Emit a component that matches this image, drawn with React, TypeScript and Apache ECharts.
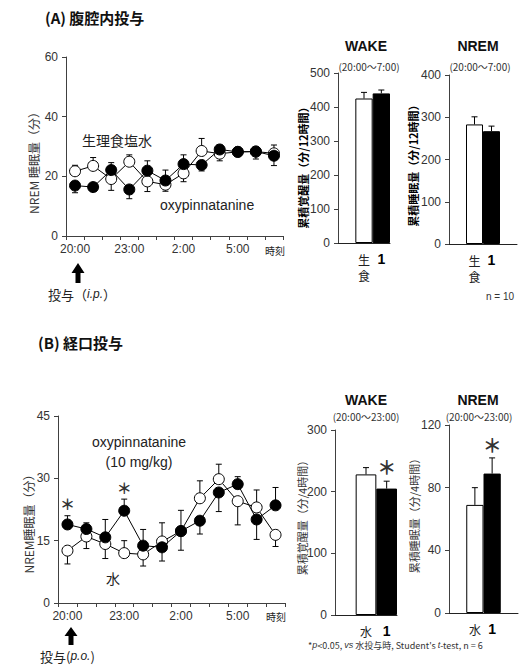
import React, { useEffect, useRef } from 'react';
import * as echarts from 'echarts';

const hours = ['20:00', '21:00', '22:00', '23:00', '0:00', '1:00', '2:00', '3:00', '4:00', '5:00', '6:00', '7:00'];

// Panel A (i.p.)
const salineA = [21.7, 23.5, 19.1, 24.9, 18.3, 17.2, 21.0, 28.5, 27.6, 28.2, 28.3, 27.7];
const salineErrA = [2.0, 2.8, -3.8, 2.3, -3.4, -2.2, -2.8, 4.2, -2.4, 1.2, 1.5, 2.8];
const oxyA = [16.9, 16.4, 22.1, 15.6, 21.9, 18.6, 24.1, 23.8, 29.0, 28.2, 28.3, 26.9];
const oxyErrA = [-2.4, -1.5, 2.5, -3.1, 3.3, 3.5, 3.1, -2.0, 1.5, -1.5, -2.5, -3.3];

// Panel B (p.o.)
const waterB = [12.6, 16.0, 14.2, 12.0, 11.7, 14.8, 17.3, 25.2, 29.8, 24.5, 23.0, 16.4];
const waterErrB = [-3.2, -2.9, -3.5, 3.0, -2.8, 4.5, -4.6, 4.2, 3.6, -5.7, 4.2, -2.8];
const oxyB = [18.9, 17.8, 15.8, 22.2, 13.8, 13.4, 17.3, 19.8, 26.6, 28.6, 20.1, 23.5];
const oxyErrB = [2.1, 1.5, 4.3, 2.8, 3.9, -3.3, 5.0, -3.2, -4.6, 1.8, -4.8, 4.3];
const oxySigB = [1, 0, 0, 1, 0, 0, 0, 0, 0, 0, 0, 0];

// Bar panels
const barCatsA = ['生食', '1'];
const wakeA = [425, 440];
const wakeErrA = [18, 10];
const nremA = [283, 267];
const nremErrA = [18, 12];

const barCatsB = ['水', '1'];
const wakeB = [228, 205];
const wakeErrB = [11, 12];
const wakeSigB = [0, 1];
const nremB = [69, 89];
const nremErrB = [11, 10];
const nremSigB = [0, 1];

const FONT = "'Liberation Sans', 'Noto Sans CJK JP', Arial, sans-serif";
const JFONT = "'Noto Sans CJK JP', 'Liberation Sans', sans-serif";
const AX = '#404040';
const TXT = '#333';

function errSeries(idx: number, values: number[], errs: number[], offset: number, sig: number[] | null, starSize: number, starGap: number, cap: number) {
  return {
    type: 'custom',
    xAxisIndex: idx,
    yAxisIndex: idx,
    z: 1,
    silent: true,
    data: values.map((v, i) => [i + offset, v, errs[i], sig ? sig[i] : 0]),
    renderItem: (params: any, api: any) => {
      const i = api.value(0);
      const v = api.value(1);
      const e = api.value(2);
      const p0 = api.coord([i, v]);
      const p1 = api.coord([i, v + e]);
      const children: any[] = [
        { type: 'line', shape: { x1: p0[0], y1: p0[1], x2: p0[0], y2: p1[1] }, style: { stroke: '#000', lineWidth: 1 } },
        { type: 'line', shape: { x1: p0[0] - cap, y1: p1[1], x2: p0[0] + cap, y2: p1[1] }, style: { stroke: '#000', lineWidth: 1 } },
      ];
      if (api.value(3)) {
        children.push({
          type: 'text',
          x: p0[0],
          y: Math.min(p0[1], p1[1]) - starGap,
          style: { text: '＊', fontSize: starSize, fontFamily: JFONT, fontWeight: 'bold', fill: '#333', align: 'center', verticalAlign: 'middle' },
        });
      }
      return { type: 'group', children };
    },
  };
}

function lineX(idx: number) {
  return {
    type: 'category',
    gridIndex: idx,
    data: hours,
    boundaryGap: true,
    axisLine: { lineStyle: { color: AX, width: 1 } },
    axisTick: { show: true, interval: 0, length: 4, lineStyle: { color: AX } },
    axisLabel: { interval: (i: number) => i % 3 === 0, color: TXT, fontSize: 12, fontFamily: FONT, margin: 7 },
  };
}

function valY(idx: number, max: number, interval: number) {
  return {
    type: 'value',
    gridIndex: idx,
    min: 0,
    max,
    interval,
    axisLine: { show: true, lineStyle: { color: AX, width: 1 } },
    axisTick: { show: true, length: 4, lineStyle: { color: AX } },
    axisLabel: { color: TXT, fontSize: 12, fontFamily: FONT, margin: 8 },
    splitLine: { show: false },
  };
}

function barX(idx: number, cats: string[], trailing: boolean) {
  const data = ['', ...cats];
  if (trailing) data.push(' ');
  return {
    type: 'category',
    gridIndex: idx,
    data,
    boundaryGap: true,
    axisLine: { lineStyle: { color: '#222', width: 1 } },
    axisTick: { show: false },
    axisLabel: {
      interval: 0,
      margin: 8,
      fontFamily: JFONT,
      fontSize: 12,
      color: '#222',
      lineHeight: 16,
      formatter: (v: string) => (v === '1' ? '{b|1}' : v.split('').join('\n')),
      rich: { b: { fontFamily: FONT, fontWeight: 'bold', fontSize: 14, color: '#000', lineHeight: 16 } },
    },
  };
}

function barSeries(idx: number, values: number[], trailing: boolean) {
  const data: any[] = ['-',
    { value: values[0], itemStyle: { color: '#fff', borderColor: '#000', borderWidth: 1 } },
    { value: values[1], itemStyle: { color: '#000', borderColor: '#000', borderWidth: 1 } },
  ];
  if (trailing) data.push('-');
  return { type: 'bar', xAxisIndex: idx, yAxisIndex: idx, barCategoryGap: '0%', z: 2, data };
}

function lineSeries(idx: number, values: number[], filled: boolean) {
  return {
    type: 'line',
    xAxisIndex: idx,
    yAxisIndex: idx,
    data: values,
    symbol: 'circle',
    symbolSize: 11,
    z: filled ? 4 : 3,
    lineStyle: { color: '#000', width: 1 },
    itemStyle: { color: filled ? '#000' : '#fff', borderColor: '#000', borderWidth: 1 },
  };
}

function txt(text: string, x: number, y: number, fontSize: number, opts: any = {}) {
  return {
    type: 'text',
    x,
    y,
    rotation: opts.rotation || 0,
    style: {
      text,
      fontSize,
      fontFamily: opts.fontFamily || FONT,
      fontWeight: opts.bold ? 'bold' : 'normal',
      fill: opts.fill || TXT,
      align: opts.align || 'left',
      verticalAlign: 'middle',
      rich: opts.rich,
    },
  };
}

function arrow(cx: number, top: number, headBottom: number, bottom: number) {
  return {
    type: 'polygon',
    shape: {
      points: [
        [cx, top], [cx + 6.5, headBottom], [cx + 2.5, headBottom], [cx + 2.5, bottom],
        [cx - 2.5, bottom], [cx - 2.5, headBottom], [cx - 6.5, headBottom],
      ],
    },
    style: { fill: '#000' },
  };
}

export default function App() {
  const ref = useRef<HTMLDivElement>(null);
  useEffect(() => {
    if (!ref.current) return;
    const chart = echarts.init(ref.current, null, { renderer: 'svg' });
    const V = Math.PI / 2;
    const italicRich = {
      n: { fontSize: 13, fontFamily: JFONT, fill: '#222' },
      i: { fontSize: 12, fontFamily: FONT, fontStyle: 'italic', fill: '#222' },
    };
    const footRich = {
      n: { fontSize: 9, fontFamily: JFONT, fill: '#333' },
      i: { fontSize: 9, fontFamily: FONT, fontStyle: 'italic', fill: '#333' },
    };
    chart.setOption({
      animation: false,
      backgroundColor: '#fff',
      grid: [
        { left: 66, top: 57, width: 217, height: 179 },
        { left: 338, top: 73, width: 52, height: 170 },
        { left: 449, top: 75, width: 68, height: 169 },
        { left: 58, top: 416, width: 227, height: 187 },
        { left: 335, top: 430, width: 62, height: 185 },
        { left: 449, top: 425, width: 69, height: 188 },
      ],
      xAxis: [
        lineX(0),
        barX(1, barCatsA, false),
        barX(2, barCatsA, true),
        lineX(3),
        barX(4, barCatsB, false),
        barX(5, barCatsB, true),
      ],
      yAxis: [
        valY(0, 60, 20),
        valY(1, 500, 100),
        valY(2, 400, 100),
        valY(3, 45, 15),
        valY(4, 300, 100),
        valY(5, 120, 40),
      ],
      series: [
        errSeries(0, salineA, salineErrA, 0, null, 14, 11, 3),
        errSeries(0, oxyA, oxyErrA, 0, null, 14, 11, 3),
        lineSeries(0, salineA, false),
        lineSeries(0, oxyA, true),
        barSeries(1, wakeA, false),
        errSeries(1, wakeA, wakeErrA, 1, null, 19, 14, 3),
        barSeries(2, nremA, true),
        errSeries(2, nremA, nremErrA, 1, null, 19, 14, 3),
        errSeries(3, waterB, waterErrB, 0, null, 14, 11, 3),
        errSeries(3, oxyB, oxyErrB, 0, oxySigB, 15, 12, 3),
        lineSeries(3, waterB, false),
        lineSeries(3, oxyB, true),
        barSeries(4, wakeB, false),
        errSeries(4, wakeB, wakeErrB, 1, wakeSigB, 19, 15, 3),
        barSeries(5, nremB, true),
        errSeries(5, nremB, nremErrB, 1, nremSigB, 19, 13, 3),
      ],
      graphic: [
        txt('(A) 腹腔内投与', 45, 17, 15, { bold: true, fill: '#111', fontFamily: JFONT }),
        txt('(B) 経口投与', 38, 342, 15, { bold: true, fill: '#111', fontFamily: JFONT }),
        txt('NREM 睡眠量（分）', 33, 160, 12, { rotation: V, align: 'center', fontFamily: JFONT }),
        txt('NREM睡眠量（分）', 28, 521, 12, { rotation: V, align: 'center', fontFamily: JFONT }),
        txt('生理食塩水', 82, 140, 14, { fontFamily: JFONT, fill: '#222' }),
        txt('oxypinnatanine', 160, 205, 14, { fill: '#222' }),
        txt('oxypinnatanine', 139, 442, 14, { fill: '#222', align: 'center' }),
        txt('(10 mg/kg)', 139, 462, 14, { fill: '#222', align: 'center' }),
        txt('水', 113, 578, 14, { fontFamily: JFONT, fill: '#222', align: 'center' }),
        txt('時刻', 265, 250, 10, { fontFamily: JFONT, fill: '#222' }),
        txt('時刻', 266, 616, 10, { fontFamily: JFONT, fill: '#222' }),
        arrow(78, 263, 273, 283),
        arrow(71, 627, 636, 645),
        txt('{n|投与（}{i|i.p.}{n|）}', 48, 294, 13, { rich: italicRich }),
        txt('{n|投与(}{i|p.o.}{n|)}', 40, 656, 13, { rich: italicRich }),
        txt('WAKE', 366, 46, 14, { bold: true, align: 'center', fill: '#111' }),
        txt('NREM', 478, 46, 14, { bold: true, align: 'center', fill: '#111' }),
        txt('(20:00～7:00)', 369, 66, 10, { align: 'center', fontFamily: JFONT }),
        txt('(20:00～7:00)', 480, 66, 10, { align: 'center', fontFamily: JFONT }),
        txt('WAKE', 366, 400, 14, { bold: true, align: 'center', fill: '#111' }),
        txt('NREM', 478, 400, 14, { bold: true, align: 'center', fill: '#111' }),
        txt('(20:00～23:00)', 366, 416, 10, { align: 'center', fontFamily: JFONT }),
        txt('(20:00～23:00)', 479, 416, 10, { align: 'center', fontFamily: JFONT }),
        txt('累積覚醒量（分/12時間）', 303, 165, 11, { rotation: V, align: 'center', bold: true, fill: '#000', fontFamily: JFONT }),
        txt('累積睡眠量（分/12時間）', 413, 163, 11, { rotation: V, align: 'center', bold: true, fill: '#000', fontFamily: JFONT }),
        txt('累積覚醒量（分/4時間）', 302, 515, 11, { rotation: V, align: 'center', fontFamily: JFONT }),
        txt('累積睡眠量（分/4時間）', 414, 513, 11, { rotation: V, align: 'center', fontFamily: JFONT }),
        txt('n = 10', 486, 296, 10, { fill: '#333' }),
        txt("{n|*}{i|p}{n|<0.05, }{i|vs}{n| 水投与時, Student's }{i|t}{n|-test, n = 6}", 308, 645, 9, { rich: footRich }),
      ],
    });
    return () => chart.dispose();
  }, []);
  return (
    <div
      ref={ref}
      style={{ position: 'absolute', left: 0, top: 0, width: 523, height: 666, background: '#fff' }}
    />
  );
}
